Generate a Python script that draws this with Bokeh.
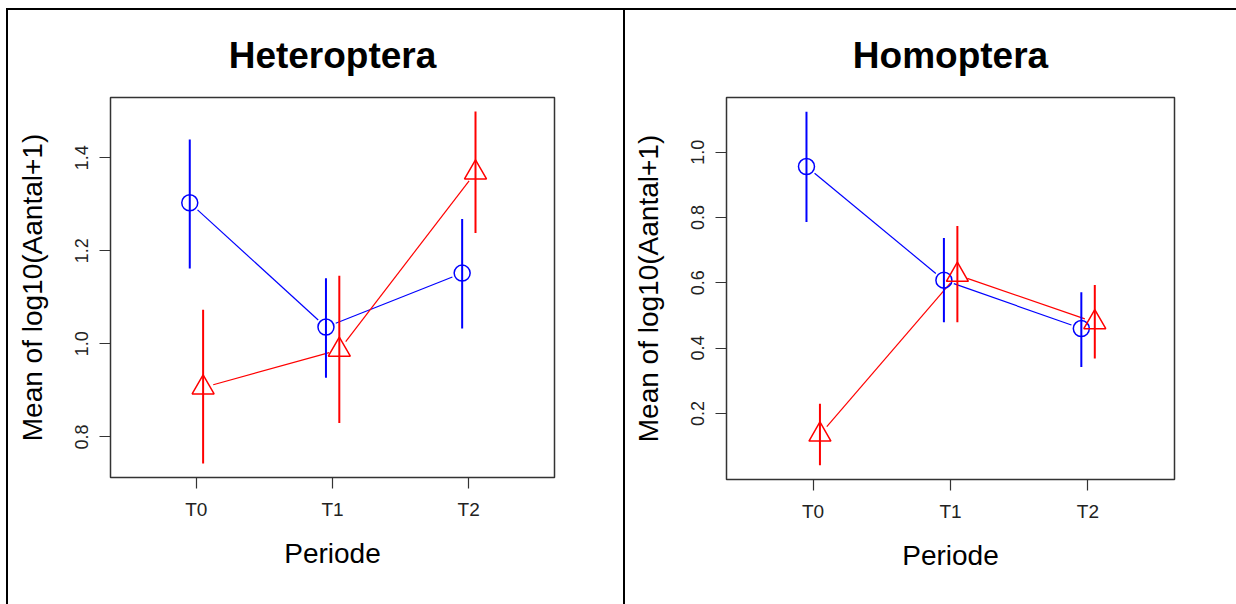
import math
from bokeh.plotting import figure
from bokeh.layouts import row
from bokeh.models import Range1d, FixedTicker, NumeralTickFormatter
from bokeh.embed import file_html
from bokeh.resources import INLINE

# ---- data ----
periods = ["T0", "T1", "T2"]
y_label = "Mean of log10(Aantal+1)"
x_label = "Periode"

het_title = "Heteroptera"
het_blue_mean = [1.303, 1.036, 1.152]
het_blue_lo = [1.162, 0.927, 1.033]
het_blue_hi = [1.439, 1.141, 1.268]
het_red_mean = [0.906, 0.987, 1.368]
het_red_lo = [0.743, 0.830, 1.238]
het_red_hi = [1.073, 1.146, 1.499]
het_yticks = [0.8, 1.0, 1.2, 1.4]

hom_title = "Homoptera"
hom_blue_mean = [0.956, 0.608, 0.460]
hom_blue_lo = [0.786, 0.479, 0.342]
hom_blue_hi = [1.124, 0.737, 0.571]
hom_red_mean = [0.135, 0.624, 0.479]
hom_red_lo = [0.041, 0.479, 0.368]
hom_red_hi = [0.230, 0.774, 0.593]
hom_yticks = [0.2, 0.4, 0.6, 0.8, 1.0]

BLUE = "#0000FF"
RED = "#FF0000"
FONT = "Liberation Sans"
X_LO, X_HI = 0.37, 3.63
DODGE_BLUE, DODGE_RED = -0.048, 0.05
GAP = 10.5


def gapped_segments(xs, ys, sx, sy, gap):
    x0, y0, x1, y1 = [], [], [], []
    for i in range(len(xs) - 1):
        dx = (xs[i + 1] - xs[i]) * sx
        dy = (ys[i + 1] - ys[i]) * sy
        L = math.hypot(dx, dy)
        if L <= 2 * gap:
            continue
        f = gap / L
        x0.append(xs[i] + (xs[i + 1] - xs[i]) * f)
        y0.append(ys[i] + (ys[i + 1] - ys[i]) * f)
        x1.append(xs[i + 1] - (xs[i + 1] - xs[i]) * f)
        y1.append(ys[i + 1] - (ys[i + 1] - ys[i]) * f)
    return x0, y0, x1, y1


def panel(title, bm, blo, bhi, rm, rlo, rhi, yticks, width, height,
          bl, bt, fw, fh, shadow):
    lo = min(blo + rlo)
    hi = max(bhi + rhi)
    pad = (hi - lo) * 0.04
    ylo, yhi = lo - pad, hi + pad
    p = figure(width=width, height=height,
               x_range=Range1d(X_LO, X_HI), y_range=Range1d(ylo, yhi),
               output_backend="svg", toolbar_location=None,
               min_border_left=bl, min_border_top=bt,
               min_border_right=width - bl - fw,
               min_border_bottom=height - bt - fh,
               frame_width=fw, frame_height=fh,
               border_fill_color=None, background_fill_color="white",
               styles={"box-shadow": shadow})
    p.title.text = title
    p.title.align = "center"
    p.title.text_font = FONT
    p.title.text_font_size = "37px"
    p.title.text_font_style = "bold"
    p.title.text_color = "black"
    p.title.standoff = 43

    p.grid.visible = False
    p.outline_line_color = "#333333"
    p.outline_line_width = 1.5

    for ax in (p.xaxis, p.yaxis):
        ax.axis_line_color = None
        ax.major_tick_line_color = "#333333"
        ax.major_tick_line_width = 1.2
        ax.major_tick_in = 0
        ax.major_tick_out = 11
        ax.minor_tick_line_color = None
        ax.major_label_text_font = FONT
        ax.major_label_text_color = "#222222"
        ax.axis_label_text_font = FONT
        ax.axis_label_text_font_style = "normal"
        ax.axis_label_text_color = "black"
        ax.axis_label_text_font_size = "28px"

    p.xaxis.ticker = FixedTicker(ticks=[1, 2, 3])
    p.xaxis.major_label_overrides = {i + 1: t for i, t in enumerate(periods)}
    p.xaxis.major_label_text_font_size = "19px"
    p.xaxis.major_label_standoff = 10
    p.xaxis.axis_label = x_label
    p.xaxis.axis_label_standoff = 15

    p.yaxis.ticker = FixedTicker(ticks=yticks)
    p.yaxis.formatter = NumeralTickFormatter(format="0.0")
    p.yaxis.major_label_orientation = "vertical"
    p.yaxis.major_label_text_font_size = "18px"
    p.yaxis.major_label_standoff = 11
    p.yaxis.axis_label = y_label
    p.yaxis.axis_label_standoff = 25

    sx = fw / (X_HI - X_LO)
    sy = fh / (yhi - ylo)
    bx = [i + 1 + DODGE_BLUE for i in range(len(periods))]
    rx = [i + 1 + DODGE_RED for i in range(len(periods))]

    for xs, m, color in ((bx, bm, BLUE), (rx, rm, RED)):
        x0, y0, x1, y1 = gapped_segments(xs, m, sx, sy, GAP)
        p.segment(x0=x0, y0=y0, x1=x1, y1=y1, line_color=color, line_width=1.2)

    p.scatter(x=bx, y=bm, marker="circle", size=16, fill_color=None,
              line_color=BLUE, line_width=1.5)
    p.scatter(x=rx, y=rm, marker="triangle", size=22, fill_color=None,
              line_color=RED, line_width=1.5)

    p.segment(x0=bx, y0=blo, x1=bx, y1=bhi, line_color=BLUE, line_width=2)
    p.segment(x0=rx, y0=rlo, x1=rx, y1=rhi, line_color=RED, line_width=2)
    return p


left_shadow = ("inset 6px 0 0 0 #fff, inset 0 8px 0 0 #fff, "
               "inset 8px 0 0 0 #000, inset 0 10px 0 0 #000")
right_shadow = "inset 0 8px 0 0 #fff, inset 2px 0 0 0 #000, inset 0 10px 0 0 #000"

p1 = panel(het_title, het_blue_mean, het_blue_lo, het_blue_hi,
           het_red_mean, het_red_lo, het_red_hi, het_yticks,
           623, 604, 110, 96, 444, 380, left_shadow)
p2 = panel(hom_title, hom_blue_mean, hom_blue_lo, hom_blue_hi,
           hom_red_mean, hom_red_lo, hom_red_hi, hom_yticks,
           613, 604, 103, 97, 448, 382, right_shadow)

layout = row(p1, p2, spacing=0)
open("out.html", "w").write(file_html(layout, INLINE))
